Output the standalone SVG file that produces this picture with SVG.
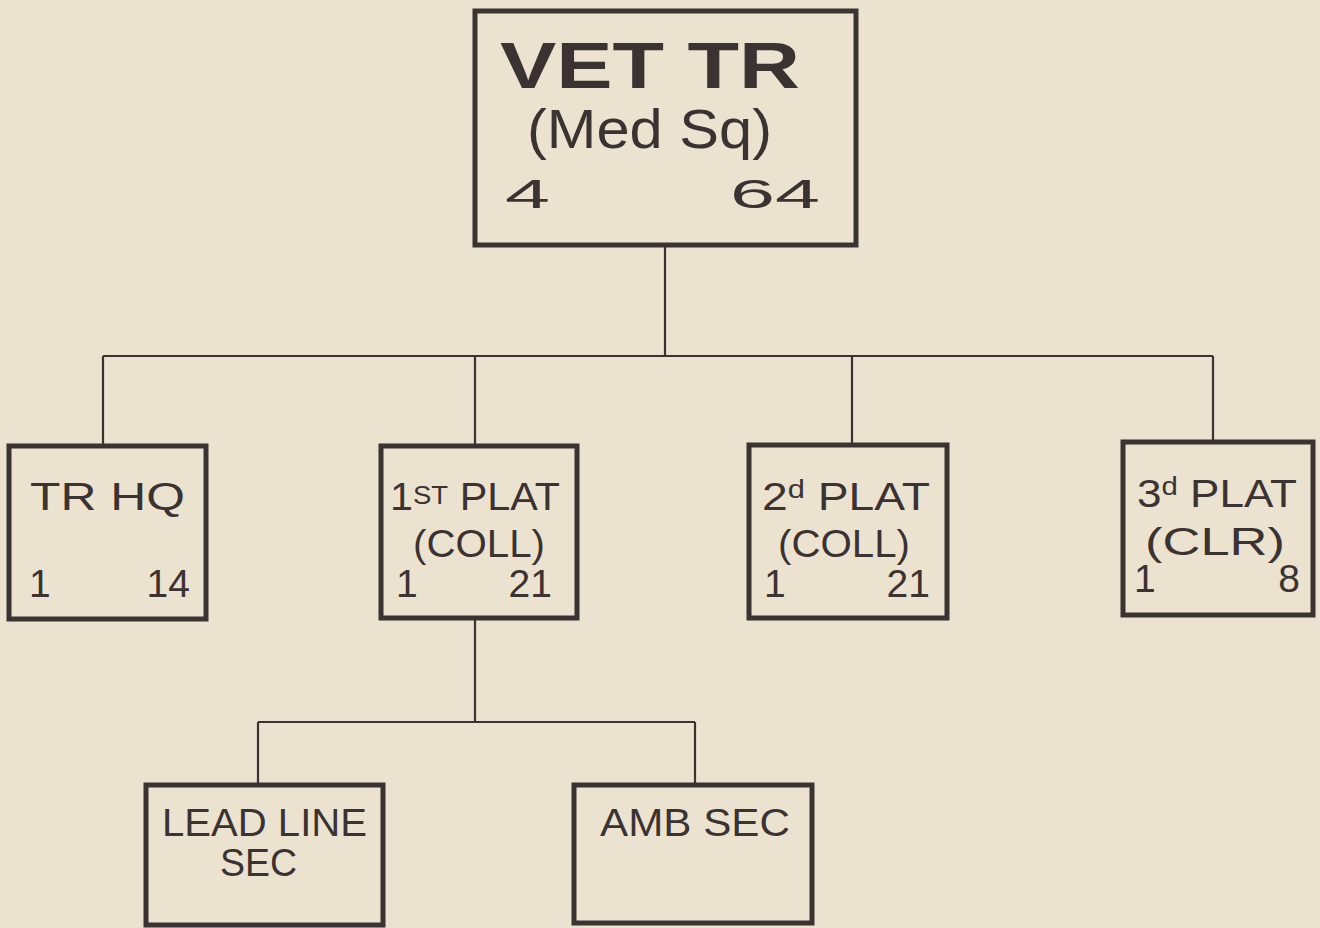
<svg xmlns="http://www.w3.org/2000/svg" width="1320" height="928" viewBox="0 0 1320 928">
<style>
.bg{fill:#ebe3d0}
.box{fill:none;stroke:#3b3232;stroke-width:5}
.ln{fill:none;stroke:#3b3232;stroke-width:2.2}
text{font-family:"Liberation Sans",Arial,sans-serif;fill:#3b3232}
.t{font-size:39px}
.s{font-size:38px}
.sup{font-size:26px}
</style>
<rect class="bg" x="0" y="0" width="1320" height="928"/>
<g id="connectors">
<path class="ln" d="M665 245V356M103 356H1213M103 356V446M475 356V446M852 356V445M1213 356V442"/>
<path class="ln" d="M475 618V722M258 722H695M258 722V785M695 722V785"/>
</g>
<g id="vet-tr">
<rect class="box" x="475" y="11" width="381" height="234"/>
<text x="500" y="88" font-size="64" font-weight="bold" textLength="300" lengthAdjust="spacingAndGlyphs">VET TR</text>
<text x="527" y="148" font-size="55" textLength="245" lengthAdjust="spacingAndGlyphs">(Med Sq)</text>
<text x="505" y="208" font-size="40" textLength="45" lengthAdjust="spacingAndGlyphs">4</text>
<text x="730" y="208" font-size="40" textLength="90" lengthAdjust="spacingAndGlyphs">64</text>
</g>
<g id="tr-hq">
<rect class="box" x="9" y="446" width="197" height="173"/>
<text x="30" y="510" class="t" textLength="155" lengthAdjust="spacingAndGlyphs">TR HQ</text>
<text x="29" y="597" class="t">1</text>
<text x="190" y="597" class="t" text-anchor="end">14</text>
</g>
<g id="plat1">
<rect class="box" x="381" y="446" width="196" height="172"/>
<text x="390" y="510" class="t" textLength="170" lengthAdjust="spacingAndGlyphs">1<tspan class="sup" dy="-6">ST</tspan><tspan dy="6"> PLAT</tspan></text>
<text x="413" y="557" class="t" textLength="132" lengthAdjust="spacingAndGlyphs">(COLL)</text>
<text x="396" y="597" class="t">1</text>
<text x="552" y="597" class="t" text-anchor="end">21</text>
</g>
<g id="plat2">
<rect class="box" x="749" y="445" width="198" height="173"/>
<text x="762" y="510" class="t" textLength="168" lengthAdjust="spacingAndGlyphs">2<tspan class="sup" dy="-12">d</tspan><tspan dy="12"> PLAT</tspan></text>
<text x="778" y="557" class="t" textLength="132" lengthAdjust="spacingAndGlyphs">(COLL)</text>
<text x="764" y="597" class="t">1</text>
<text x="930" y="597" class="t" text-anchor="end">21</text>
</g>
<g id="plat3">
<rect class="box" x="1123" y="442" width="190" height="173"/>
<text x="1137" y="507" class="t" textLength="160" lengthAdjust="spacingAndGlyphs">3<tspan class="sup" dy="-12">d</tspan><tspan dy="12"> PLAT</tspan></text>
<text x="1145" y="555" class="t" textLength="140" lengthAdjust="spacingAndGlyphs">(CLR)</text>
<text x="1134" y="592" class="t">1</text>
<text x="1300" y="592" class="t" text-anchor="end">8</text>
</g>
<g id="lead-line-sec">
<rect class="box" x="146" y="785" width="237" height="140"/>
<text x="162" y="836" class="s" textLength="205" lengthAdjust="spacingAndGlyphs">LEAD LINE</text>
<text x="220" y="876" class="s" textLength="77" lengthAdjust="spacingAndGlyphs">SEC</text>
</g>
<g id="amb-sec">
<rect class="box" x="574" y="785" width="238" height="138"/>
<text x="600" y="836" class="s" textLength="190" lengthAdjust="spacingAndGlyphs">AMB SEC</text>
</g>
</svg>
